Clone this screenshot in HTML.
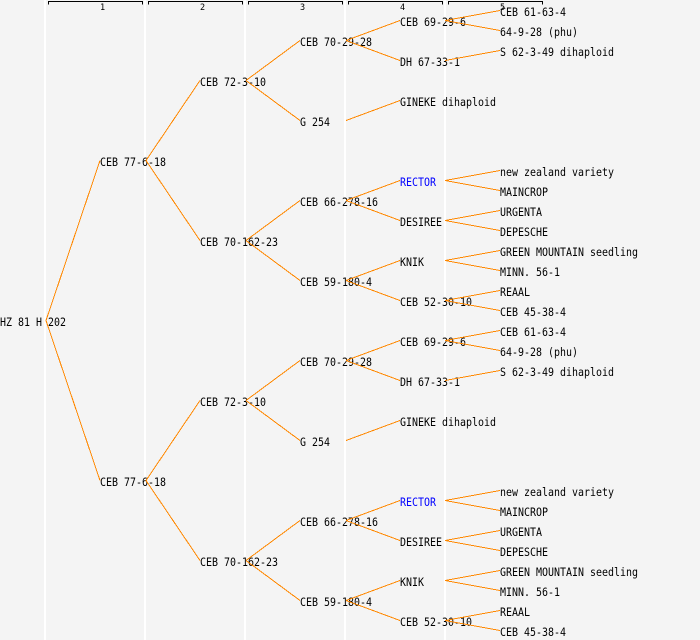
<!DOCTYPE html>
<html>
<head>
<meta charset="utf-8">
<style>
html,body{margin:0;padding:0;background:#f4f4f4;}
svg{display:block;}
text{font-family:"DejaVu Sans Mono","Liberation Mono",monospace;font-size:11.5px;fill:#000;}
.h{font-size:8.5px;}
.ln line{stroke:#ff8800;stroke-width:1;shape-rendering:crispEdges;}
</style>
</head>
<body>
<svg width="700" height="640" viewBox="0 0 700 640" xmlns="http://www.w3.org/2000/svg">
<rect x="0" y="0" width="700" height="640" fill="#f4f4f4"/>
<!-- column dividers -->
<g fill="#ffffff">
<rect x="44" y="0" width="2" height="640"/>
<rect x="144" y="0" width="2" height="640"/>
<rect x="244" y="0" width="2" height="640"/>
<rect x="344" y="0" width="2" height="640"/>
<rect x="444" y="0" width="2" height="640"/>
</g>
<!-- header brackets -->
<g fill="none" stroke="#000" stroke-width="1" shape-rendering="crispEdges">
<path d="M48.5 4.5V1.5H142.5V4.5"/>
<path d="M148.5 4.5V1.5H242.5V4.5"/>
<path d="M248.5 4.5V1.5H342.5V4.5"/>
<path d="M348.5 4.5V1.5H442.5V4.5"/>
<path d="M448.5 4.5V1.5H542.5V4.5"/>
</g>
<text class="h" x="100" y="10">1</text>
<text class="h" x="200" y="10">2</text>
<text class="h" x="300" y="10">3</text>
<text class="h" x="400" y="10">4</text>
<text class="h" x="500" y="10">5</text>

<!-- root -->
<text x="0" y="326" textLength="66" lengthAdjust="spacingAndGlyphs">HZ 81 H 202</text>

<g>
<text x="100" y="166" textLength="66" lengthAdjust="spacingAndGlyphs">CEB 77-6-18</text>
<text x="200" y="86" textLength="66" lengthAdjust="spacingAndGlyphs">CEB 72-3-10</text>
<text x="200" y="246" textLength="78" lengthAdjust="spacingAndGlyphs">CEB 70-162-23</text>
<text x="300" y="46" textLength="72" lengthAdjust="spacingAndGlyphs">CEB 70-29-28</text>
<text x="300" y="126" textLength="30" lengthAdjust="spacingAndGlyphs">G 254</text>
<text x="300" y="206" textLength="78" lengthAdjust="spacingAndGlyphs">CEB 66-278-16</text>
<text x="300" y="286" textLength="72" lengthAdjust="spacingAndGlyphs">CEB 59-180-4</text>
<text x="400" y="26" textLength="66" lengthAdjust="spacingAndGlyphs">CEB 69-29-6</text>
<text x="400" y="66" textLength="60" lengthAdjust="spacingAndGlyphs">DH 67-33-1</text>
<text x="400" y="106" textLength="96" lengthAdjust="spacingAndGlyphs">GINEKE dihaploid</text>
<text x="400" y="186" textLength="36" lengthAdjust="spacingAndGlyphs" style="fill:#0000ff">RECTOR</text>
<text x="400" y="226" textLength="42" lengthAdjust="spacingAndGlyphs">DESIREE</text>
<text x="400" y="266" textLength="24" lengthAdjust="spacingAndGlyphs">KNIK</text>
<text x="400" y="306" textLength="72" lengthAdjust="spacingAndGlyphs">CEB 52-30-10</text>
<text x="500" y="16" textLength="66" lengthAdjust="spacingAndGlyphs">CEB 61-63-4</text>
<text x="500" y="36" textLength="78" lengthAdjust="spacingAndGlyphs">64-9-28 (phu)</text>
<text x="500" y="56" textLength="114" lengthAdjust="spacingAndGlyphs">S 62-3-49 dihaploid</text>
<text x="500" y="176" textLength="114" lengthAdjust="spacingAndGlyphs">new zealand variety</text>
<text x="500" y="196" textLength="48" lengthAdjust="spacingAndGlyphs">MAINCROP</text>
<text x="500" y="216" textLength="42" lengthAdjust="spacingAndGlyphs">URGENTA</text>
<text x="500" y="236" textLength="48" lengthAdjust="spacingAndGlyphs">DEPESCHE</text>
<text x="500" y="256" textLength="138" lengthAdjust="spacingAndGlyphs">GREEN MOUNTAIN seedling</text>
<text x="500" y="276" textLength="60" lengthAdjust="spacingAndGlyphs">MINN. 56-1</text>
<text x="500" y="296" textLength="30" lengthAdjust="spacingAndGlyphs">REAAL</text>
<text x="500" y="316" textLength="66" lengthAdjust="spacingAndGlyphs">CEB 45-38-4</text>
</g>

<g transform="translate(0,320)">
<text x="100" y="166" textLength="66" lengthAdjust="spacingAndGlyphs">CEB 77-6-18</text>
<text x="200" y="86" textLength="66" lengthAdjust="spacingAndGlyphs">CEB 72-3-10</text>
<text x="200" y="246" textLength="78" lengthAdjust="spacingAndGlyphs">CEB 70-162-23</text>
<text x="300" y="46" textLength="72" lengthAdjust="spacingAndGlyphs">CEB 70-29-28</text>
<text x="300" y="126" textLength="30" lengthAdjust="spacingAndGlyphs">G 254</text>
<text x="300" y="206" textLength="78" lengthAdjust="spacingAndGlyphs">CEB 66-278-16</text>
<text x="300" y="286" textLength="72" lengthAdjust="spacingAndGlyphs">CEB 59-180-4</text>
<text x="400" y="26" textLength="66" lengthAdjust="spacingAndGlyphs">CEB 69-29-6</text>
<text x="400" y="66" textLength="60" lengthAdjust="spacingAndGlyphs">DH 67-33-1</text>
<text x="400" y="106" textLength="96" lengthAdjust="spacingAndGlyphs">GINEKE dihaploid</text>
<text x="400" y="186" textLength="36" lengthAdjust="spacingAndGlyphs" style="fill:#0000ff">RECTOR</text>
<text x="400" y="226" textLength="42" lengthAdjust="spacingAndGlyphs">DESIREE</text>
<text x="400" y="266" textLength="24" lengthAdjust="spacingAndGlyphs">KNIK</text>
<text x="400" y="306" textLength="72" lengthAdjust="spacingAndGlyphs">CEB 52-30-10</text>
<text x="500" y="16" textLength="66" lengthAdjust="spacingAndGlyphs">CEB 61-63-4</text>
<text x="500" y="36" textLength="78" lengthAdjust="spacingAndGlyphs">64-9-28 (phu)</text>
<text x="500" y="56" textLength="114" lengthAdjust="spacingAndGlyphs">S 62-3-49 dihaploid</text>
<text x="500" y="176" textLength="114" lengthAdjust="spacingAndGlyphs">new zealand variety</text>
<text x="500" y="196" textLength="48" lengthAdjust="spacingAndGlyphs">MAINCROP</text>
<text x="500" y="216" textLength="42" lengthAdjust="spacingAndGlyphs">URGENTA</text>
<text x="500" y="236" textLength="48" lengthAdjust="spacingAndGlyphs">DEPESCHE</text>
<text x="500" y="256" textLength="138" lengthAdjust="spacingAndGlyphs">GREEN MOUNTAIN seedling</text>
<text x="500" y="276" textLength="60" lengthAdjust="spacingAndGlyphs">MINN. 56-1</text>
<text x="500" y="296" textLength="30" lengthAdjust="spacingAndGlyphs">REAAL</text>
<text x="500" y="316" textLength="66" lengthAdjust="spacingAndGlyphs">CEB 45-38-4</text>
</g>

<!-- connectors -->
<g class="ln">
<line x1="46" y1="320.5" x2="100" y2="160.5"/>
<line x1="46" y1="320.5" x2="100" y2="480.5"/>
</g>
<g class="ln">
<line x1="146" y1="160.5" x2="200" y2="80.5"/>
<line x1="146" y1="160.5" x2="200" y2="240.5"/>
<line x1="246" y1="80.5" x2="300" y2="40.5"/>
<line x1="246" y1="80.5" x2="300" y2="120.5"/>
<line x1="246" y1="240.5" x2="300" y2="200.5"/>
<line x1="246" y1="240.5" x2="300" y2="280.5"/>
<line x1="346" y1="40.5" x2="400" y2="20.5"/>
<line x1="346" y1="40.5" x2="400" y2="60.5"/>
<line x1="346" y1="120.5" x2="400" y2="100.5"/>
<line x1="346" y1="200.5" x2="400" y2="180.5"/>
<line x1="346" y1="200.5" x2="400" y2="220.5"/>
<line x1="346" y1="280.5" x2="400" y2="260.5"/>
<line x1="346" y1="280.5" x2="400" y2="300.5"/>
<line x1="445" y1="20.5" x2="500" y2="10.5"/>
<line x1="445" y1="20.5" x2="500" y2="30.5"/>
<line x1="445" y1="60.5" x2="500" y2="50.5"/>
<line x1="445" y1="180.5" x2="500" y2="170.5"/>
<line x1="445" y1="180.5" x2="500" y2="190.5"/>
<line x1="445" y1="220.5" x2="500" y2="210.5"/>
<line x1="445" y1="220.5" x2="500" y2="230.5"/>
<line x1="445" y1="260.5" x2="500" y2="250.5"/>
<line x1="445" y1="260.5" x2="500" y2="270.5"/>
<line x1="445" y1="300.5" x2="500" y2="290.5"/>
<line x1="445" y1="300.5" x2="500" y2="310.5"/>
</g>
<g class="ln" transform="translate(0,320)">
<line x1="146" y1="160.5" x2="200" y2="80.5"/>
<line x1="146" y1="160.5" x2="200" y2="240.5"/>
<line x1="246" y1="80.5" x2="300" y2="40.5"/>
<line x1="246" y1="80.5" x2="300" y2="120.5"/>
<line x1="246" y1="240.5" x2="300" y2="200.5"/>
<line x1="246" y1="240.5" x2="300" y2="280.5"/>
<line x1="346" y1="40.5" x2="400" y2="20.5"/>
<line x1="346" y1="40.5" x2="400" y2="60.5"/>
<line x1="346" y1="120.5" x2="400" y2="100.5"/>
<line x1="346" y1="200.5" x2="400" y2="180.5"/>
<line x1="346" y1="200.5" x2="400" y2="220.5"/>
<line x1="346" y1="280.5" x2="400" y2="260.5"/>
<line x1="346" y1="280.5" x2="400" y2="300.5"/>
<line x1="445" y1="20.5" x2="500" y2="10.5"/>
<line x1="445" y1="20.5" x2="500" y2="30.5"/>
<line x1="445" y1="60.5" x2="500" y2="50.5"/>
<line x1="445" y1="180.5" x2="500" y2="170.5"/>
<line x1="445" y1="180.5" x2="500" y2="190.5"/>
<line x1="445" y1="220.5" x2="500" y2="210.5"/>
<line x1="445" y1="220.5" x2="500" y2="230.5"/>
<line x1="445" y1="260.5" x2="500" y2="250.5"/>
<line x1="445" y1="260.5" x2="500" y2="270.5"/>
<line x1="445" y1="300.5" x2="500" y2="290.5"/>
<line x1="445" y1="300.5" x2="500" y2="310.5"/>
</g>
</svg>
</body>
</html>
